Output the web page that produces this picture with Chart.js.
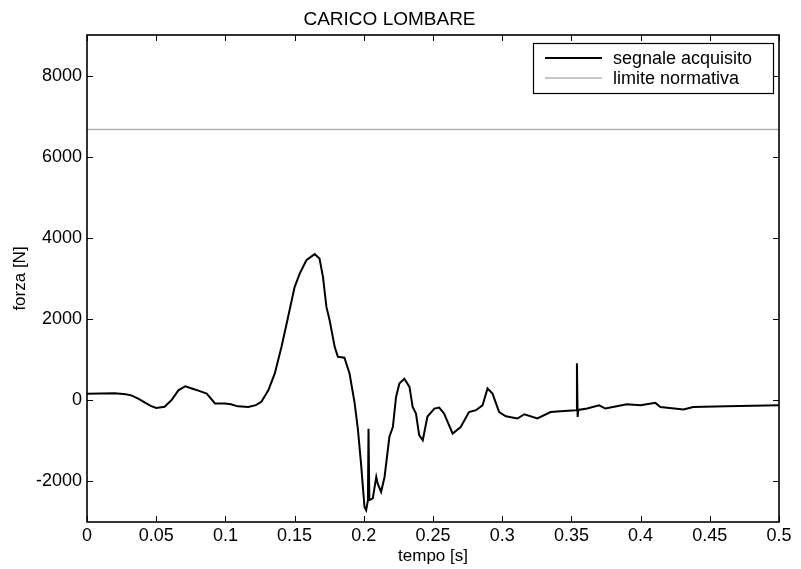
<!DOCTYPE html>
<html>
<head>
<meta charset="utf-8">
<script src="https://cdn.jsdelivr.net/npm/chart.js@4.4.1/dist/chart.umd.min.js"></script>
<style>
  html, body { margin: 0; padding: 0; background: #fff; }
  #wrap { width: 801px; height: 569px; }
</style>
</head>
<body>
<div id="wrap"><canvas id="c"></canvas></div>
<script>
// tempo [s] / forza [N]
const tempo = [
  0, 0.010, 0.020, 0.028, 0.032, 0.037, 0.041, 0.046, 0.050, 0.056,
  0.061, 0.066, 0.071, 0.0757, 0.081, 0.0865, 0.0925, 0.0997, 0.104, 0.109,
  0.1165, 0.122, 0.126, 0.131, 0.1357, 0.1405, 0.1453, 0.150, 0.1537, 0.1585,
  0.1645, 0.168, 0.1705, 0.173, 0.1753, 0.179, 0.1813, 0.186, 0.1897, 0.1933,
  0.1957, 0.198, 0.2005, 0.2017, 0.2030, 0.2034, 0.2040, 0.2048, 0.2065, 0.209,
  0.210, 0.2125, 0.215, 0.2185, 0.221, 0.2233, 0.2257, 0.2293, 0.233, 0.2353,
  0.2377, 0.240, 0.2426, 0.246, 0.251, 0.2545, 0.258, 0.2642, 0.270, 0.276,
  0.281, 0.2858, 0.2894, 0.293, 0.2978, 0.3026, 0.311, 0.316, 0.3254, 0.335,
  0.342, 0.3535, 0.3540, 0.3545, 0.3550, 0.3614, 0.370, 0.3746, 0.390, 0.400,
  0.4107, 0.4143, 0.431, 0.438, 0.462, 0.5
];
const forza = [
  160, 165, 170, 150, 120, 40, -40, -140, -190, -160,
  0, 245, 345, 290, 230, 165, -80, -80, -100, -150,
  -165, -120, -40, 245, 660, 1310, 2050, 2790, 3120, 3450,
  3600, 3490, 3040, 2300, 1970, 1310, 1070, 1050, 660, -50,
  -700, -1560, -2630, -2710, -2460, -700, -2460, -2450, -2420, -1890,
  -2050, -2260, -1890, -900, -660, 80, 410, 530, 330, -165,
  -330, -860, -985, -400, -205, -180, -330, -820, -660, -290,
  -245, -125, 290, 165, -290, -395, -450, -345, -450, -290,
  -270, -245, 910, -410, -240, -205, -125, -205, -100, -125,
  -65, -165, -230, -165, -150, -125
];
const limiteNormativa = 6670;
const limiteTempo = [0, 0.5];

const xTicks = [0, 0.05, 0.1, 0.15, 0.2, 0.25, 0.3, 0.35, 0.4, 0.45, 0.5];
const xLabels = ["0", "0.05", "0.1", "0.15", "0.2", "0.25", "0.3", "0.35", "0.4", "0.45", "0.5"];
const yTicks = [-2000, 0, 2000, 4000, 6000, 8000];
const yLabels = ["-2000", "0", "2000", "4000", "6000", "8000"];

const seriesNames = ["segnale acquisito", "limite normativa"];
const seriesColors = ["#000000", "#b4b4b4"];

const FONT = "'Liberation Sans', Arial, sans-serif";

// matlab-style box with inward ticks + legend inside the axes
const boxPlugin = {
  id: "matlabBox",
  afterDraw(chart) {
    const { ctx, chartArea: a, scales } = chart;
    ctx.save();
    ctx.strokeStyle = "#000";
    ctx.lineWidth = 1.6;
    ctx.strokeRect(a.left, a.top, a.right - a.left, a.bottom - a.top);

    ctx.lineWidth = 1;
    const tl = 6;
    ctx.beginPath();
    xTicks.forEach(v => {
      const px = Math.round(scales.x.getPixelForValue(v)) + 0.5;
      ctx.moveTo(px, a.bottom); ctx.lineTo(px, a.bottom - tl);
      ctx.moveTo(px, a.top); ctx.lineTo(px, a.top + tl);
    });
    yTicks.forEach(v => {
      const py = Math.round(scales.y.getPixelForValue(v)) + 0.5;
      ctx.moveTo(a.left, py); ctx.lineTo(a.left + tl, py);
      ctx.moveTo(a.right, py); ctx.lineTo(a.right - tl, py);
    });
    ctx.stroke();

    // legend
    const lx = 533, ly = 43, lw = 240, lh = 50;
    ctx.fillStyle = "#fff";
    ctx.fillRect(lx, ly, lw, lh);
    ctx.strokeStyle = "#000";
    ctx.lineWidth = 1.2;
    ctx.strokeRect(lx + 0.5, ly + 0.5, lw, lh);
    ctx.font = "18px " + FONT;
    ctx.textBaseline = "middle";
    ctx.textAlign = "left";
    const rows = [58, 78];
    seriesNames.forEach((name, i) => {
      ctx.strokeStyle = seriesColors[i];
      ctx.lineWidth = i === 0 ? 2 : 1.5;
      ctx.beginPath();
      ctx.moveTo(545, rows[i]); ctx.lineTo(602, rows[i]);
      ctx.stroke();
      ctx.fillStyle = "#000";
      ctx.fillText(name, 613, rows[i] + 1);
    });
    ctx.restore();
  }
};

const ctx = document.getElementById("c").getContext("2d");
new Chart(ctx, {
  type: "line",
  data: {
    datasets: [
      {
        label: seriesNames[1],
        data: limiteTempo.map(t => ({ x: t, y: limiteNormativa })),
        borderColor: seriesColors[1],
        borderWidth: 1.5,
        pointRadius: 0
      },
      {
        label: seriesNames[0],
        data: tempo.map((t, i) => ({ x: t, y: forza[i] })),
        borderColor: seriesColors[0],
        borderWidth: 2,
        pointRadius: 0,
        tension: 0
      }
    ]
  },
  options: {
    responsive: true,
    maintainAspectRatio: false,
    animation: false,
    layout: { padding: { left: 0, right: 22, top: 0, bottom: 0 } },
    plugins: {
      legend: { display: false },
      tooltip: { enabled: false },
      title: {
        display: true,
        text: "CARICO LOMBARE",
        color: "#000",
        font: { family: FONT, size: 19, weight: "normal" },
        padding: { top: 8.6, bottom: 3.6 }
      }
    },
    scales: {
      x: {
        type: "linear",
        min: 0,
        max: 0.5,
        afterBuildTicks: s => { s.ticks = xTicks.map(v => ({ value: v })); },
        afterFit: s => { s.height = 47; },
        grid: { display: false, drawTicks: false },
        border: { display: false },
        ticks: {
          color: "#000",
          padding: 3,
          maxRotation: 0,
          autoSkip: false,
          font: { family: FONT, size: 18 },
          callback: (v, i) => xLabels[i]
        },
        title: {
          display: true,
          text: "tempo [s]",
          color: "#000",
          font: { family: FONT, size: 17 },
          padding: { top: 0, bottom: 2 }
        }
      },
      y: {
        min: -3000,
        max: 9000,
        afterBuildTicks: s => { s.ticks = yTicks.map(v => ({ value: v })); },
        afterFit: s => { s.width = 87; },
        grid: { display: false, drawTicks: false },
        border: { display: false },
        ticks: {
          color: "#000",
          padding: 5,
          autoSkip: false,
          font: { family: FONT, size: 18 },
          callback: (v, i) => yLabels[i]
        },
        title: {
          display: true,
          text: "forza [N]",
          color: "#000",
          font: { family: FONT, size: 17 },
          padding: { top: 10, bottom: 0 }
        }
      }
    }
  },
  plugins: [boxPlugin]
});
</script>
</body>
</html>
